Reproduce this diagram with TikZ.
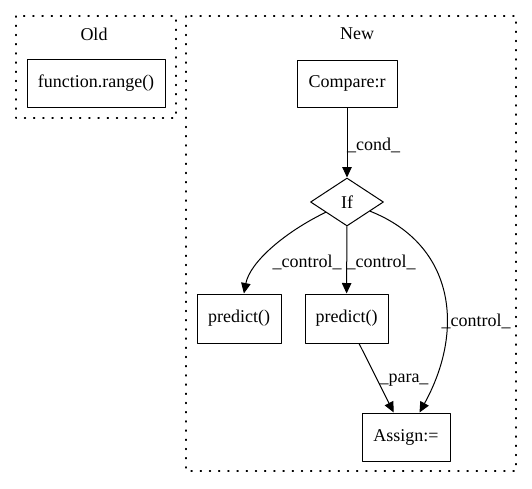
\documentclass[tikz,border=0pt]{standalone}
\usepackage{fontspec}
\setmainfont{Liberation Serif}
\usepackage{tikz}
\usetikzlibrary{arrows.meta,shapes.geometric}

\begin{document}
\begin{tikzpicture}[line cap=round,line join=round,>={Triangle[length=10.5pt,width=9.5pt]},x=1pt,y=-1pt,
  box/.style={draw,line width=1pt,inner sep=0pt,font=\fontsize{18}{21}\selectfont},
  cond/.style={draw,diamond,line width=1pt,inner sep=0pt,minimum width=73pt,minimum height=48pt,font=\fontsize{18}{21}\selectfont},
  lbl/.style={inner sep=0pt,font=\fontsize{18}{21}\selectfont},
  clus/.style={line width=1.1pt,dash pattern=on 1.2pt off 8pt},
  edge/.style={->,line width=1pt}]
\useasboundingbox (0,0) rectangle (532,488);
% clusters
\draw[clus] (16,16) rectangle (176,118);
\draw[clus] (186,16) rectangle (516,471);
\node[lbl] (old) at (94,34) {Old};
\node[lbl] (new) at (357,34) {New};
% nodes
\node[box,minimum width=138pt,minimum height=48pt] (range) at (96,83) {function.range()};
\node[box,minimum width=100pt,minimum height=47pt] (cmp) at (347,83.5) {Compare:r};
\node[cond] (if) at (347,202) {If};
\node[box,minimum width=84pt,minimum height=49pt] (pred1) at (239,318.5) {predict()};
\node[box,minimum width=83pt,minimum height=49pt] (pred2) at (346.5,318.5) {predict()};
\node[box,minimum width=88pt,minimum height=48pt] (assign) at (406,437) {Assign:=};
% edges
\draw[edge] (cmp) -- (if);
\draw[edge] (if) .. controls (285,232) and (250,262) .. (pred1);
\draw[edge] (if) -- (pred2);
\draw[edge] (if) .. controls (455,245) and (465,330) .. (assign);
\draw[edge] (pred2) -- (assign);
% labels
\node[lbl,anchor=west] (lcond) at (347,145) {\_cond\_};
\node[lbl] (lctl1) at (307,262) {\_control\_};
\node[lbl] (lctl2) at (381,262) {\_control\_};
\node[lbl] (lctl3) at (476,321) {\_control\_};
\node[lbl] (lpara) at (404,380) {\_para\_};
\end{tikzpicture}
\end{document}
